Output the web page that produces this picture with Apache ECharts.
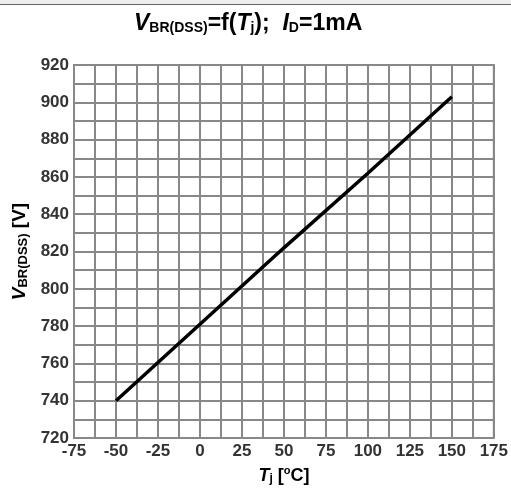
<!DOCTYPE html>
<html>
<head>
<meta charset="utf-8">
<script src="https://cdn.jsdelivr.net/npm/echarts@6/dist/echarts.min.js"></script>
<style>
html,body{margin:0;padding:0;background:#fff;}
#chart{width:511px;height:490px;}
</style>
</head>
<body>
<div id="chart"></div>
<script>
// Data
var tempC = [-50, 0, 50, 100, 150];
var vbrDss = [740, 781, 822, 862, 903];
var xTicks = [-75, -50, -25, 0, 25, 50, 75, 100, 125, 150, 175];
var yTicks = [720, 740, 760, 780, 800, 820, 840, 860, 880, 900, 920];

var seriesData = tempC.map(function (t, i) { return [t, vbrDss[i]]; });

var chart = echarts.init(document.getElementById('chart'));
var FONT = '"Liberation Sans", Arial, sans-serif';
var grey = '#888888';

chart.setOption({
  animation: false,
  backgroundColor: '#ffffff',
  graphic: [
    { type: 'rect', shape: { x: 0, y: 0, width: 511, height: 4 }, style: { fill: '#eeeeee' }, silent: true },
    { type: 'rect', shape: { x: 0, y: 4, width: 511, height: 1 }, style: { fill: '#666666' }, silent: true }
  ],
  title: {
    left: 134,
    top: 9,
    padding: 0,
    text: '{i|V}{s|BR(DSS)}{n|=f(}{i|T}{s|j}{n|);  }{i|I}{s|D}{n|=1mA}',
    textStyle: {
      rich: {
        i: { fontFamily: FONT, fontSize: 23, fontWeight: 'bold', fontStyle: 'italic', color: '#000', verticalAlign: 'bottom', lineHeight: 26 },
        n: { fontFamily: FONT, fontSize: 23, fontWeight: 'bold', color: '#000', verticalAlign: 'bottom', lineHeight: 26 },
        s: { fontFamily: FONT, fontSize: 14, fontWeight: 'bold', color: '#000', verticalAlign: 'bottom', lineHeight: 23 }
      }
    }
  },
  grid: { left: 74, right: 16, top: 65, bottom: 45, show: true, borderColor: grey, borderWidth: 2, backgroundColor: 'transparent' },
  xAxis: {
    type: 'value',
    min: xTicks[0],
    max: xTicks[xTicks.length - 1],
    interval: 12.5,
    axisLine: { show: false },
    axisTick: { show: false },
    splitLine: { show: true, lineStyle: { color: grey, width: 2 } },
    axisLabel: {
      margin: 5,
      fontFamily: FONT, fontSize: 17, fontWeight: 'bold', color: '#333',
      formatter: function (v) { return xTicks.indexOf(v) >= 0 ? String(v) : ''; }
    },
    name: '{i|T}{s|j}{n| [}{sup|o}{n|C]}',
    nameLocation: 'middle',
    nameGap: 25,
    nameTextStyle: {
      rich: {
        i: { fontFamily: FONT, fontSize: 18, fontWeight: 'bold', fontStyle: 'italic', color: '#000', verticalAlign: 'bottom', lineHeight: 20 },
        n: { fontFamily: FONT, fontSize: 18, fontWeight: 'bold', color: '#000', verticalAlign: 'bottom', lineHeight: 20 },
        s: { fontFamily: FONT, fontSize: 12, fontWeight: 'bold', color: '#000', verticalAlign: 'bottom', lineHeight: 18 },
        sup: { fontFamily: FONT, fontSize: 11, fontWeight: 'bold', color: '#000', verticalAlign: 'top', lineHeight: 20 }
      }
    }
  },
  yAxis: {
    type: 'value',
    min: yTicks[0],
    max: yTicks[yTicks.length - 1],
    interval: 10,
    axisLine: { show: false },
    axisTick: { show: false },
    splitLine: { show: true, lineStyle: { color: grey, width: 2 } },
    axisLabel: {
      margin: 5,
      fontFamily: FONT, fontSize: 17, fontWeight: 'bold', color: '#333',
      formatter: function (v) { return yTicks.indexOf(v) >= 0 ? String(v) : ''; }
    },
    name: '{i|V}{s|BR(DSS)}{n| [V]}',
    nameLocation: 'middle',
    nameRotate: 90,
    nameGap: 44,
    nameTextStyle: {
      rich: {
        i: { fontFamily: FONT, fontSize: 19, fontWeight: 'bold', fontStyle: 'italic', color: '#000', verticalAlign: 'bottom', lineHeight: 21 },
        n: { fontFamily: FONT, fontSize: 19, fontWeight: 'bold', color: '#000', verticalAlign: 'bottom', lineHeight: 21 },
        s: { fontFamily: FONT, fontSize: 13, fontWeight: 'bold', color: '#000', verticalAlign: 'bottom', lineHeight: 19 }
      }
    }
  },
  series: [{
    type: 'line',
    data: seriesData,
    showSymbol: false,
    lineStyle: { color: '#000', width: 3.5 },
    z: 5
  }]
});
</script>
</body>
</html>
